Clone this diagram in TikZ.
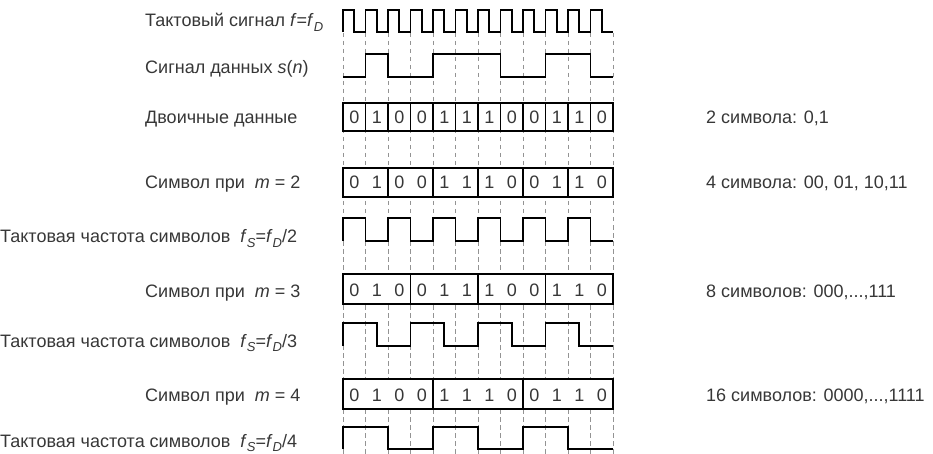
\documentclass[tikz,border=0pt]{standalone}
\usepackage{fontspec}
\setmainfont{Liberation Sans}
\definecolor{txt}{RGB}{55,55,55}
\newcommand\fs{\fontsize{18}{21}\selectfont}
\newcommand\mysub[1]{\raisebox{-4.5pt}{\fontsize{13}{13}\selectfont\itshape #1}}
\begin{document}
\begin{tikzpicture}[x=1pt,y=-1pt,
  sig/.style={line width=1.7pt, line join=miter},
  gridline/.style={gray!85, line width=0.7pt, dash pattern=on 4.5pt off 3.5pt},
  symbox/.style={line width=1.7pt, fill=white},
  lbl/.style={anchor=base west, inner sep=0pt, text=txt, font=\fs},
  dig/.style={anchor=base, inner sep=0pt, text=txt, font=\fs}]
\useasboundingbox (0,0) rectangle (933,454);
% grid
\foreach \k in {0,...,12} \draw[gridline] ({343+22.5*\k},33) -- ({343+22.5*\k},454);
% clock f = f_D
\draw[sig] (343,32) \foreach \k in {0,...,11} { -- ++(0,-22) -- ++(11.25,0) -- ++(0,22) -- ++(11.25,0) };
% data signal
\draw[sig] (343,77) -- (365.5,77) -- (365.5,54) -- (388,54) -- (388,77) -- (433,77) -- (433,54) -- (500.5,54) -- (500.5,77) -- (545.5,77) -- (545.5,54) -- (590.5,54) -- (590.5,77) -- (613,77);
% boxes
\foreach \k in {0,...,11} \draw[symbox] ({343+22.5*\k},103) rectangle ++(22.5,28);
\foreach \k in {0,...,5} \draw[symbox] ({343+45*\k},168) rectangle ++(45,29);
\foreach \k in {0,...,3} \draw[symbox] ({343+67.5*\k},274) rectangle ++(67.5,30);
\foreach \k in {0,...,2} \draw[symbox] ({343+90*\k},379) rectangle ++(90,30);
% digits
\foreach \b [count=\i from 0] in {0,1,0,0,1,1,1,0,0,1,1,0} {
  \node[dig] (da\i) at ({343+22.5*(\i+0.5)},124) {\b};
  \node[dig] (db\i) at ({343+22.5*(\i+0.5)},189) {\b};
  \node[dig] (dc\i) at ({343+22.5*(\i+0.5)},296) {\b};
  \node[dig] (dd\i) at ({343+22.5*(\i+0.5)},401) {\b};
}
% symbol clocks
\draw[sig] (343,241) \foreach \k in {0,...,5} { -- ++(0,-23) -- ++(22.5,0) -- ++(0,23) -- ++(22.5,0) };
\draw[sig] (343,346) \foreach \k in {0,...,3} { -- ++(0,-23) -- ++(33.75,0) -- ++(0,23) -- ++(33.75,0) };
\draw[sig] (343,449) \foreach \k in {0,...,2} { -- ++(0,-22) -- ++(45,0) -- ++(0,22) -- ++(45,0) };
% left labels
\node[lbl] (l1) at (145,27) {Тактовый сигнал \textit{f}=\textit{f}\mysub{D}};
\node[lbl] (l2) at (145,74) {Сигнал данных \textit{s}(\textit{n})};
\node[lbl] (l3) at (145,124) {Двоичные данные};
\node[lbl] (l4) at (145,189) {Символ при\ \ \textit{m} = 2};
\node[lbl] (l5) at (0,243) {Тактовая частота символов\ \ \textit{f}\mysub{S}=\textit{f}\mysub{D}/2};
\node[lbl] (l6) at (145,297) {Символ при\ \ \textit{m} = 3};
\node[lbl] (l7) at (0,347) {Тактовая частота символов\ \ \textit{f}\mysub{S}=\textit{f}\mysub{D}/3};
\node[lbl] (l8) at (145,401) {Символ при\ \ \textit{m} = 4};
\node[lbl] (l9) at (0,447) {Тактовая частота символов\ \ \textit{f}\mysub{S}=\textit{f}\mysub{D}/4};
% right labels
\node[lbl] (r1) at (706,124) {2 символа: 0,1};
\node[lbl] (r2) at (706,189) {4 символа: 00, 01, 10,11};
\node[lbl] (r3) at (706,297) {8 символов: 000,...,111};
\node[lbl] (r4) at (706,401) {16 символов: 0000,...,1111};
\end{tikzpicture}
\end{document}
